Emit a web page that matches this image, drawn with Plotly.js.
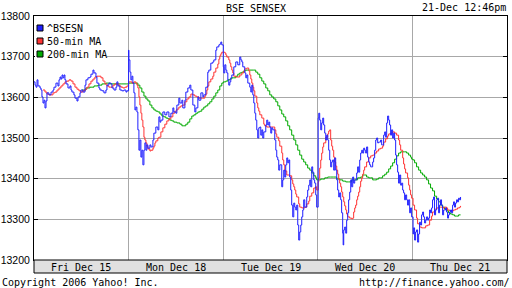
<!DOCTYPE html>
<html><head><meta charset="utf-8">
<script src="https://cdn.plot.ly/plotly-3.0.1.min.js"></script>
<style>html,body{margin:0;padding:0;background:#fff}#chart{width:512px;height:288px}</style>
</head><body><div id="chart"></div>
<script>
// time = trading days since Fri Dec 15 open (fraction of session), value = index level
const bsesn = [
[0,13638],[.011,13630],[.021,13625],[.032,13643],[.042,13628],[.063,13623],[.074,13618],[.084,13601],[.095,13586],[.106,13593],[.116,13574],[.127,13591],[.137,13611],[.158,13606],[.180,13613],[.201,13618],[.211,13625],[.232,13635],[.253,13628],[.264,13643],[.275,13650],[.285,13645],[.296,13655],[.306,13648],[.317,13655],[.327,13643],[.338,13633],[.359,13623],[.380,13628],[.391,13618],[.401,13613],[.422,13606],[.433,13598],[.454,13591],[.465,13601],[.486,13611],[.496,13618],[.517,13613],[.539,13630],[.549,13643],[.570,13648],[.591,13650],[.602,13657],[.623,13667],[.634,13660],[.655,13650],[.665,13635],[.686,13623],[.697,13618],[.718,13616],[.739,13611],[.760,13618],[.771,13630],[.792,13635],[.813,13633],[.824,13623],[.845,13618],[.866,13625],[.876,13638],[.887,13628],[.908,13618],[.929,13616],[.950,13618],[.972,13613],[.982,13616],
[1.000,13716],[1.003,13692],[1.014,13662],[1.024,13643],[1.035,13652],[1.045,13635],[1.056,13611],[1.067,13569],[1.077,13576],[1.088,13564],[1.098,13520],[1.109,13470],[1.119,13495],[1.130,13453],[1.140,13470],[1.151,13434],[1.162,13470],[1.172,13488],[1.183,13470],[1.193,13483],[1.204,13475],[1.225,13483],[1.236,13478],[1.257,13495],[1.267,13512],[1.288,13527],[1.309,13520],[1.320,13552],[1.331,13539],[1.341,13544],[1.362,13564],[1.383,13557],[1.404,13564],[1.426,13552],[1.447,13561],[1.468,13574],[1.478,13564],[1.500,13561],[1.510,13581],[1.531,13598],[1.542,13586],[1.563,13593],[1.573,13574],[1.595,13593],[1.605,13613],[1.626,13623],[1.647,13630],[1.658,13618],[1.679,13581],[1.700,13564],[1.711,13574],[1.732,13601],[1.742,13593],[1.764,13611],[1.785,13601],[1.795,13606],[1.816,13625],[1.837,13662],[1.848,13667],[1.869,13684],[1.890,13687],[1.901,13692],[1.922,13716],[1.932,13724],[1.954,13729],[1.964,13731],[1.975,13736],[1.985,13729],
[2.001,13675],[2.006,13660],[2.017,13680],[2.028,13667],[2.038,13660],[2.049,13643],[2.059,13630],[2.070,13638],[2.080,13648],[2.091,13655],[2.112,13675],[2.133,13687],[2.154,13680],[2.175,13699],[2.186,13692],[2.197,13687],[2.207,13675],[2.228,13660],[2.239,13648],[2.249,13655],[2.260,13635],[2.281,13625],[2.292,13613],[2.302,13630],[2.313,13606],[2.323,13586],[2.334,13561],[2.344,13544],[2.355,13520],[2.365,13500],[2.376,13525],[2.387,13527],[2.397,13507],[2.408,13520],[2.418,13500],[2.429,13515],[2.450,13532],[2.460,13544],[2.471,13532],[2.482,13539],[2.492,13527],[2.503,13512],[2.513,13525],[2.524,13520],[2.545,13495],[2.556,13470],[2.566,13453],[2.577,13446],[2.587,13421],[2.598,13434],[2.619,13380],[2.629,13397],[2.640,13421],[2.651,13404],[2.661,13434],[2.672,13451],[2.682,13439],[2.693,13446],[2.703,13404],[2.714,13372],[2.724,13335],[2.735,13306],[2.746,13340],[2.756,13330],[2.767,13323],[2.777,13335],[2.788,13286],[2.798,13249],[2.809,13269],[2.820,13286],[2.830,13306],[2.841,13323],[2.851,13348],[2.862,13330],[2.883,13355],[2.893,13372],[2.904,13384],[2.915,13397],[2.925,13380],[2.936,13429],[2.946,13416],[2.957,13397],[2.967,13389],[2.978,13360],[2.988,13330],
[3.004,13549],[3.010,13561],[3.020,13544],[3.031,13520],[3.041,13537],[3.052,13549],[3.062,13532],[3.073,13512],[3.084,13495],[3.094,13507],[3.105,13495],[3.115,13470],[3.126,13446],[3.136,13429],[3.147,13441],[3.157,13446],[3.168,13421],[3.179,13451],[3.189,13421],[3.200,13397],[3.210,13372],[3.221,13355],[3.231,13365],[3.242,13348],[3.252,13316],[3.263,13266],[3.268,13237],[3.274,13274],[3.284,13281],[3.295,13266],[3.305,13298],[3.316,13316],[3.326,13348],[3.337,13367],[3.348,13397],[3.358,13380],[3.369,13404],[3.379,13389],[3.390,13397],[3.400,13397],[3.411,13414],[3.421,13429],[3.432,13416],[3.443,13446],[3.453,13463],[3.464,13470],[3.474,13463],[3.485,13475],[3.495,13470],[3.506,13463],[3.516,13478],[3.527,13453],[3.538,13441],[3.548,13434],[3.559,13429],[3.569,13429],[3.580,13441],[3.590,13451],[3.601,13470],[3.612,13495],[3.622,13500],[3.633,13488],[3.643,13490],[3.654,13490],[3.664,13495],[3.675,13483],[3.685,13483],[3.696,13507],[3.707,13515],[3.717,13502],[3.728,13537],[3.738,13554],[3.749,13544],[3.759,13532],[3.770,13507],[3.780,13520],[3.791,13500],[3.802,13512],[3.812,13495],[3.823,13458],[3.833,13434],[3.844,13416],[3.854,13389],[3.865,13409],[3.876,13384],[3.886,13389],[3.897,13372],[3.907,13365],[3.918,13348],[3.928,13360],[3.939,13348],[3.949,13335],[3.960,13348],[3.971,13316],[3.981,13328],[3.992,13306],
[4.007,13264],[4.013,13279],[4.023,13249],[4.034,13269],[4.044,13274],[4.055,13244],[4.066,13264],[4.076,13293],[4.087,13286],[4.097,13311],[4.108,13318],[4.118,13306],[4.129,13291],[4.140,13298],[4.150,13306],[4.161,13298],[4.171,13303],[4.182,13323],[4.192,13316],[4.203,13328],[4.213,13348],[4.224,13355],[4.234,13311],[4.245,13323],[4.256,13348],[4.266,13352],[4.277,13316],[4.287,13335],[4.298,13348],[4.308,13335],[4.319,13311],[4.330,13323],[4.340,13323],[4.351,13328],[4.361,13318],[4.372,13303],[4.382,13311],[4.393,13318],[4.404,13323],[4.414,13316],[4.425,13335],[4.435,13343],[4.446,13330],[4.456,13340],[4.467,13348],[4.477,13343],[4.488,13352],[4.499,13348],[4.509,13355]
];
const ma50 = [
[.095,13618],[.116,13613],[.137,13608],[.158,13606],[.180,13606],[.201,13611],[.222,13613],[.243,13618],[.264,13623],[.285,13628],[.306,13633],[.327,13638],[.348,13640],[.370,13643],[.391,13640],[.412,13633],[.433,13625],[.454,13620],[.475,13616],[.496,13613],[.517,13616],[.539,13620],[.560,13625],[.581,13633],[.602,13640],[.623,13645],[.644,13650],[.665,13652],[.686,13652],[.708,13648],[.729,13640],[.750,13633],[.771,13628],[.792,13625],[.813,13625],[.834,13630],[.855,13633],[.876,13633],[.898,13628],[.919,13625],[.940,13623],[.961,13625],[.982,13628],
[1.000,13638],[1.014,13638],[1.035,13635],[1.056,13638],[1.077,13635],[1.088,13630],[1.098,13623],[1.109,13601],[1.119,13581],[1.130,13561],[1.140,13544],[1.151,13527],[1.162,13502],[1.172,13495],[1.183,13488],[1.193,13480],[1.204,13473],[1.225,13468],[1.236,13470],[1.257,13475],[1.267,13480],[1.278,13488],[1.288,13493],[1.309,13500],[1.320,13502],[1.341,13515],[1.362,13525],[1.383,13534],[1.404,13542],[1.426,13547],[1.447,13552],[1.468,13561],[1.489,13566],[1.510,13571],[1.531,13576],[1.552,13579],[1.573,13581],[1.595,13589],[1.616,13596],[1.637,13601],[1.658,13608],[1.679,13606],[1.700,13603],[1.721,13601],[1.742,13598],[1.764,13598],[1.785,13598],[1.806,13603],[1.816,13608],[1.827,13618],[1.837,13628],[1.848,13638],[1.869,13645],[1.890,13652],[1.901,13662],[1.922,13672],[1.943,13682],[1.954,13694],[1.964,13702],[1.975,13707],[1.985,13711],
[2.001,13711],[2.017,13709],[2.028,13704],[2.038,13699],[2.059,13692],[2.070,13684],[2.080,13675],[2.091,13667],[2.101,13660],[2.112,13652],[2.133,13650],[2.154,13650],[2.175,13655],[2.197,13660],[2.218,13665],[2.228,13670],[2.249,13672],[2.270,13665],[2.281,13655],[2.292,13645],[2.302,13635],[2.313,13625],[2.323,13616],[2.334,13603],[2.355,13586],[2.365,13574],[2.376,13566],[2.387,13557],[2.408,13549],[2.429,13534],[2.439,13530],[2.460,13527],[2.492,13527],[2.513,13527],[2.534,13527],[2.545,13520],[2.556,13510],[2.566,13502],[2.587,13493],[2.598,13480],[2.619,13463],[2.629,13446],[2.640,13434],[2.651,13419],[2.672,13409],[2.693,13409],[2.703,13407],[2.724,13397],[2.735,13387],[2.746,13380],[2.756,13372],[2.767,13362],[2.777,13355],[2.798,13338],[2.809,13330],[2.830,13328],[2.851,13328],[2.862,13330],[2.883,13338],[2.904,13345],[2.915,13357],[2.936,13365],[2.957,13377],[2.978,13380],[2.988,13372],
[3.004,13392],[3.010,13402],[3.020,13426],[3.031,13446],[3.041,13463],[3.052,13478],[3.062,13488],[3.084,13502],[3.105,13510],[3.115,13517],[3.126,13520],[3.136,13495],[3.147,13480],[3.157,13470],[3.168,13453],[3.179,13441],[3.189,13431],[3.200,13421],[3.210,13411],[3.221,13399],[3.231,13389],[3.242,13380],[3.252,13367],[3.263,13355],[3.274,13343],[3.284,13333],[3.295,13323],[3.305,13313],[3.316,13306],[3.337,13303],[3.358,13301],[3.369,13303],[3.379,13318],[3.390,13328],[3.400,13335],[3.411,13348],[3.421,13357],[3.432,13367],[3.443,13380],[3.453,13394],[3.464,13402],[3.474,13411],[3.485,13421],[3.495,13429],[3.516,13441],[3.538,13451],[3.559,13456],[3.580,13458],[3.601,13463],[3.622,13468],[3.643,13473],[3.664,13475],[3.685,13480],[3.696,13490],[3.717,13498],[3.738,13505],[3.749,13510],[3.770,13512],[3.791,13515],[3.812,13512],[3.833,13507],[3.854,13495],[3.865,13483],[3.876,13470],[3.897,13451],[3.907,13436],[3.918,13424],[3.928,13414],[3.949,13402],[3.960,13384],[3.971,13372],[3.981,13360],[3.992,13352],
[4.007,13335],[4.023,13323],[4.044,13303],[4.055,13289],[4.076,13281],[4.097,13279],[4.118,13279],[4.140,13284],[4.161,13286],[4.182,13298],[4.203,13308],[4.213,13318],[4.234,13325],[4.256,13328],[4.277,13330],[4.298,13330],[4.319,13328],[4.340,13330],[4.361,13328],[4.372,13323],[4.393,13321],[4.414,13321],[4.435,13323],[4.456,13325],[4.477,13328],[4.499,13330],[4.509,13333]
];
const ma200 = [
[.507,13618],[.549,13623],[.591,13625],[.634,13628],[.676,13630],[.718,13633],[.760,13635],[.803,13633],[.845,13633],[.887,13633],[.929,13633],[.982,13633],
[1.000,13635],[1.035,13635],[1.077,13635],[1.098,13630],[1.119,13623],[1.140,13613],[1.162,13603],[1.183,13596],[1.204,13591],[1.225,13581],[1.246,13574],[1.267,13569],[1.288,13566],[1.309,13564],[1.331,13559],[1.352,13554],[1.373,13552],[1.394,13549],[1.415,13547],[1.436,13544],[1.457,13542],[1.478,13539],[1.510,13537],[1.542,13534],[1.563,13530],[1.584,13530],[1.605,13534],[1.626,13539],[1.647,13547],[1.668,13554],[1.690,13557],[1.711,13561],[1.732,13564],[1.753,13566],[1.774,13571],[1.795,13576],[1.816,13579],[1.837,13584],[1.858,13589],[1.880,13596],[1.901,13603],[1.922,13611],[1.943,13618],[1.964,13628],[1.985,13635],
[2.001,13638],[2.028,13640],[2.049,13643],[2.070,13645],[2.091,13648],[2.112,13648],[2.133,13652],[2.154,13657],[2.175,13660],[2.197,13662],[2.218,13665],[2.239,13667],[2.281,13667],[2.323,13667],[2.344,13662],[2.365,13657],[2.387,13648],[2.408,13640],[2.429,13633],[2.450,13623],[2.471,13616],[2.492,13606],[2.513,13601],[2.534,13596],[2.556,13589],[2.577,13579],[2.598,13569],[2.619,13559],[2.640,13552],[2.661,13542],[2.682,13530],[2.703,13520],[2.724,13507],[2.746,13495],[2.767,13483],[2.788,13470],[2.809,13458],[2.830,13448],[2.851,13441],[2.872,13434],[2.893,13426],[2.915,13421],[2.936,13414],[2.957,13407],[2.978,13402],[2.988,13397],
[3.004,13397],[3.031,13399],[3.052,13399],[3.073,13402],[3.105,13404],[3.136,13404],[3.168,13404],[3.200,13399],[3.231,13397],[3.263,13394],[3.295,13392],[3.326,13392],[3.358,13397],[3.390,13397],[3.421,13402],[3.453,13404],[3.474,13409],[3.495,13409],[3.516,13404],[3.538,13402],[3.559,13402],[3.580,13397],[3.601,13397],[3.622,13399],[3.643,13402],[3.664,13402],[3.685,13407],[3.707,13411],[3.728,13416],[3.749,13424],[3.770,13431],[3.791,13439],[3.812,13448],[3.833,13456],[3.854,13463],[3.876,13466],[3.897,13466],[3.918,13466],[3.939,13463],[3.960,13458],[3.981,13453],[3.992,13448],
[4.007,13446],[4.023,13439],[4.044,13429],[4.066,13421],[4.087,13414],[4.108,13409],[4.129,13404],[4.150,13397],[4.171,13387],[4.192,13377],[4.213,13370],[4.234,13357],[4.256,13350],[4.277,13343],[4.298,13335],[4.319,13330],[4.340,13325],[4.361,13321],[4.382,13316],[4.404,13313],[4.425,13311],[4.446,13308],[4.467,13308],[4.488,13311],[4.509,13311]
];
const dayLabels = ['Fri Dec 15','Mon Dec 18','Tue Dec 19','Wed Dec 20','Thu Dec 21'];
const yTicks = [13200,13300,13400,13500,13600,13700,13800];
const seriesNames = ['^BSESN','50-min MA','200-min MA'];
const seriesColors = ['#1f1fff','#ff3333','#00aa00'];

const mono = 'DejaVu Sans Mono, monospace';
const series = [bsesn, ma50, ma200];
const traces = series.map((s,i)=>({
  type:'scatter', mode:'lines', name:seriesNames[i],
  x:s.map(p=>p[0]), y:s.map(p=>p[1]),
  line:{color:seriesColors[i], width:1, shape:'hv'},
  showlegend:false, hoverinfo:'skip'
}));
traces.reverse(); // blue drawn on top

const annotations = [];
dayLabels.forEach((d,i)=>annotations.push({
  text:d, xref:'x', x:i+0.5, yref:'paper', y:0, yshift:-7, yanchor:'middle',
  showarrow:false, font:{family:mono,size:10,color:'#000'}
}));
seriesNames.forEach((n,i)=>annotations.push({
  text:n, xref:'paper', x:0, xshift:11, xanchor:'left', yref:'paper', y:1, yshift:-12-13*i, yanchor:'middle',
  showarrow:false, font:{family:mono,size:10,color:'#000'}
}));
annotations.push({text:'21-Dec 12:46pm', xref:'paper', x:1, xshift:1, xanchor:'right', yref:'paper', y:1, yshift:9, yanchor:'middle', showarrow:false, font:{family:mono,size:10,color:'#000'}});
annotations.push({text:'Copyright 2006 Yahoo! Inc.', xref:'paper', x:0, xshift:-34, xanchor:'left', yref:'paper', y:0, yshift:-22, yanchor:'middle', showarrow:false, font:{family:mono,size:10,color:'#000'}});
annotations.push({text:'http://finance.yahoo.com/', xref:'paper', x:1, xshift:5, xanchor:'right', yref:'paper', y:0, yshift:-22, yanchor:'middle', showarrow:false, font:{family:mono,size:10,color:'#000'}});

const shapes = [
  {type:'rect', xref:'paper', yref:'paper', x0:0, x1:1, ysizemode:'pixel', yanchor:0, y0:-13, y1:0, fillcolor:'#e0e0e0', line:{color:'#000',width:1}, layer:'above'},
  {type:'rect', xref:'paper', yref:'paper', xsizemode:'pixel', xanchor:0, x0:1, x1:73, ysizemode:'pixel', yanchor:1, y0:-1, y1:-44, fillcolor:'#fff', line:{width:0}, layer:'above'}
];
seriesColors.forEach((c,i)=>shapes.push({
  type:'rect', xref:'paper', yref:'paper', xsizemode:'pixel', xanchor:0, x0:3, x1:9,
  ysizemode:'pixel', yanchor:1, y0:-9-13*i, y1:-15-13*i,
  fillcolor:c, line:{color:'#000',width:1}, layer:'above'
}));

const layout = {
  width:512, height:288, paper_bgcolor:'#fff', plot_bgcolor:'#fff',
  margin:{l:34, r:5, t:16, b:28},
  title:{text:'BSE SENSEX', x:0.5, xref:'container', xanchor:'center', y:1-8/288, yref:'container', yanchor:'middle', font:{family:mono,size:10,color:'#000'}},
  showlegend:false,
  xaxis:{range:[0,5], tickvals:[1,2,3,4], showticklabels:false, showgrid:true, gridcolor:'#a8a8a8', gridwidth:1,
    ticks:'', showline:true, linecolor:'#000', linewidth:1, mirror:true, zeroline:false, fixedrange:true},
  yaxis:{range:[13200,13800], tickvals:yTicks, ticktext:yTicks.map(String), showgrid:true, gridcolor:'#a8a8a8', gridwidth:1,
    ticks:'inside', ticklen:4, tickcolor:'#000', showline:true, linecolor:'#000', linewidth:1, mirror:'ticks', zeroline:false,
    tickfont:{family:'Liberation Sans, Arial, sans-serif', size:10.5, color:'#000'}, ticklabelstandoff:1, fixedrange:true},
  annotations, shapes
};
Plotly.newPlot('chart', traces, layout, {staticPlot:true, displayModeBar:false});
</script></body></html>
